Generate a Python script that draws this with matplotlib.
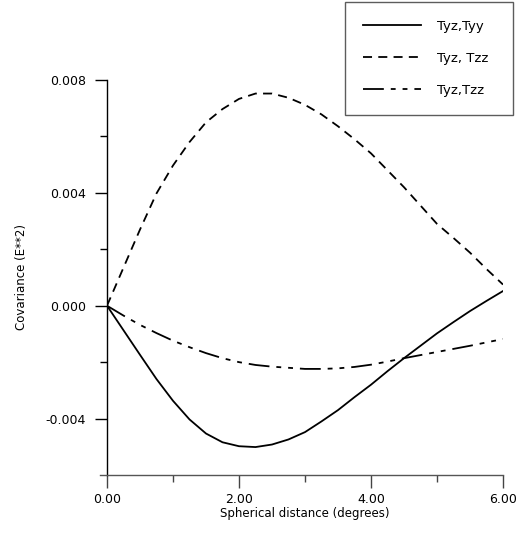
import matplotlib
matplotlib.use("Agg")
import matplotlib.pyplot as plt

plt.rcParams['font.family'] = ['DejaVu Sans']
plt.rcParams['lines.scale_dashes'] = False

distance = [0, 0.25, 0.5, 0.75, 1.0, 1.25, 1.5, 1.75, 2.0, 2.25, 2.5, 2.75, 3.0,
            3.25, 3.5, 3.75, 4.0, 4.25, 4.5, 4.75, 5.0, 5.25, 5.5, 5.75, 6.0]
tyz_tyy = [0, -0.00087, -0.00174, -0.0026, -0.00337, -0.00403, -0.00453, -0.00484,
           -0.00498, -0.00501, -0.00492, -0.00474, -0.00448, -0.0041, -0.0037,
           -0.00324, -0.0028, -0.00232, -0.00186, -0.00142, -0.00098, -0.00058,
           -0.00019, 0.00017, 0.00052]
tyz_tzz_a = [0, 0.00135, 0.0027, 0.00398, 0.00497, 0.0058, 0.0065, 0.00697, 0.00733,
             0.00752, 0.00752, 0.00737, 0.00712, 0.00678, 0.00636, 0.0059, 0.0054,
             0.0048, 0.0042, 0.00355, 0.0029, 0.0024, 0.00188, 0.0013, 0.00075]
tyz_tzz_b = [0, -0.00035, -0.00068, -0.00097, -0.00124, -0.00147, -0.00168, -0.00186,
             -0.002, -0.0021, -0.00216, -0.0022, -0.00224, -0.00224, -0.00222,
             -0.00217, -0.00209, -0.00198, -0.00186, -0.00175, -0.00164, -0.00153,
             -0.00142, -0.0013, -0.00118]
labels = ["Tyz,Tyy", "Tyz, Tzz", "Tyz,Tzz"]
x_ticks = [0, 2, 4, 6]
x_ticklabels = ["0.00", "2.00", "4.00", "6.00"]
y_ticks = [-0.004, 0.0, 0.004, 0.008]
y_ticklabels = ["-0.004", "0.000", "0.004", "0.008"]

fig = plt.figure(figsize=(5.26, 5.38), dpi=100)
ax = fig.add_axes([107/526, 1-475/538, 396/526, 395/538])

lw = 1.3
l1, = ax.plot(distance, tyz_tyy, color='black', lw=lw, linestyle='-')
l2, = ax.plot(distance, tyz_tzz_a, color='black', lw=lw, linestyle=(0, (6.5, 4.5)))
l3, = ax.plot(distance, tyz_tzz_b, color='black', lw=lw,
              linestyle=(0, (15, 5, 3.5, 5, 3.5, 5)))

ax.set_xlim(0, 6)
ax.set_ylim(-0.006, 0.008)
ax.set_xticks(x_ticks)
ax.set_xticklabels(x_ticklabels)
ax.set_xticks([1, 3, 5], minor=True)
ax.set_yticks(y_ticks)
ax.set_yticklabels(y_ticklabels)
ax.set_yticks([-0.002, 0.002, 0.006], minor=True)
ax.tick_params(which='major', length=9, width=1, direction='out', labelsize=9)
ax.tick_params(which='minor', length=5, width=1, direction='out')
ax.tick_params(axis='x', which='major', pad=4)
ax.tick_params(axis='y', which='major', pad=6)
ax.tick_params(axis='x', which='both', colors='#444444', labelcolor='black')

for s in ['top', 'right']:
    ax.spines[s].set_visible(False)
ax.spines['left'].set_linewidth(1)
ax.spines['bottom'].set_linewidth(1)
ax.spines['bottom'].set_color('#555555')
ax.spines['bottom'].set_bounds(-0.1, 6)

ax.set_xlabel("Spherical distance (degrees)", fontsize=8.5)
ax.set_ylabel("Covariance (E**2)", fontsize=8.5)
ax.xaxis.set_label_coords(0.5, -0.080)
ax.yaxis.set_label_coords(-0.200, 0.5)

leg = fig.legend([l1, l2, l3], labels, loc='upper left',
                 bbox_to_anchor=(345/526, 1-2/538, 168/526, 0.0), mode='expand',
                 fontsize=9.5,
                 handlelength=4.4, handletextpad=1.2, labelspacing=1.45,
                 borderpad=1.35, borderaxespad=0, fancybox=False, frameon=True)
leg.get_frame().set_edgecolor('#333333')
leg.get_frame().set_linewidth(1)

fig.savefig("out.png", dpi=100)
